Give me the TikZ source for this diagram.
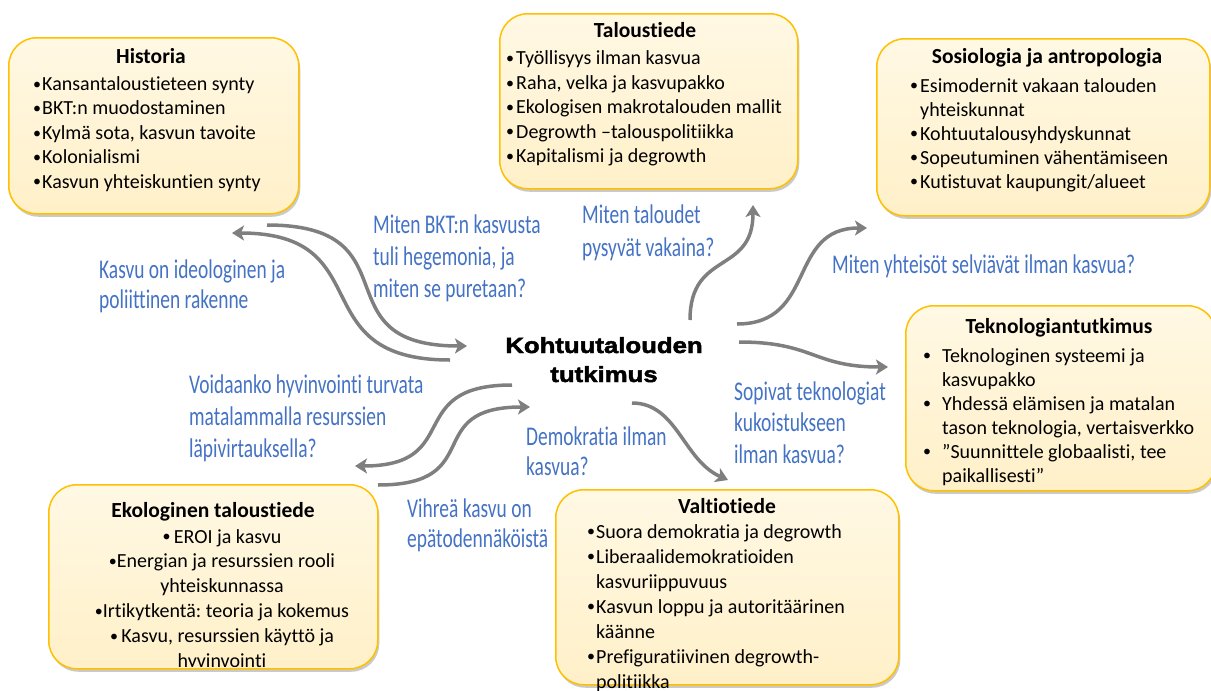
\documentclass[tikz,border=0pt]{standalone}
\usepackage{fontspec}
\setmainfont[Ligatures=NoCommon]{Carlito}
\newfontfamily\qfont[FakeStretch=0.72,Ligatures=NoCommon]{Carlito}
\newfontfamily\cfont[FakeStretch=1.17,FakeBold=2.2]{Liberation Sans Bold}
\usetikzlibrary{arrows.meta,shadows,calc}
\definecolor{qblue}{HTML}{4472C4}
\definecolor{agray}{HTML}{7F7F7F}
\definecolor{bord}{HTML}{FFC000}
\definecolor{btop}{HTML}{FFF8E4}
\definecolor{bbot}{HTML}{FFF0C8}
\newcommand\mybul{{\fontsize{16}{16}\selectfont\raisebox{1.2pt}{\textbullet}}}
\newcommand\bul[1]{\llap{\makebox[#1][l]{\mybul}}}
\frenchspacing
\tikzset{
  box/.style={draw=bord, line width=1.5pt, rounded corners=28pt, top color=btop, bottom color=bbot,
    drop shadow={shadow xshift=1.5pt, shadow yshift=-3pt, opacity=0.35, fill=black!60},
    anchor=north west, inner sep=0pt},
  ttl/.style={anchor=base, inner sep=0pt, font=\bfseries\fontsize{21.5}{25}\selectfont},
  lst/.style={anchor=base west, inner sep=0pt, align=left, font=\fontsize{20}{24.4}\selectfont},
  q/.style={anchor=base west, inner sep=0pt, align=left, text=qblue, font=\qfont\fontsize{27}{31.5}\selectfont},
  arr/.style={draw=agray, line width=3.5pt, -{Stealth[length=12pt, width=15pt, inset=3pt]}}
}
\begin{document}
\begin{tikzpicture}[x=1pt,y=-1pt]
\useasboundingbox (0,0) rectangle (1211,691);
% boxes
\node[box, minimum width=290pt, minimum height=176pt] (hist) at (8,37) {};
\node[box, minimum width=298pt, minimum height=175pt] (talo) at (499,13) {};
\node[box, minimum width=333pt, minimum height=177pt] (sosi) at (876,38) {};
\node[box, minimum width=310pt, minimum height=185pt] (tekn) at (905,305) {};
\node[box, minimum width=329pt, minimum height=184pt] (ekol) at (48,484) {};
\node[box, minimum width=343pt, minimum height=195pt] (valt) at (555,489) {};
% titles
\node[ttl] (histT) at (151,63) {Historia};
\node[ttl] (taloT) at (645,37) {Taloustiede};
\node[ttl] (sosiT) at (1047,63) {Sosiologia ja antropologia};
\node[ttl] (teknT) at (1059,333) {Teknologiantutkimus};
\node[ttl] (ekolT) at (213,517) {Ekologinen taloustiede};
\node[ttl] (valtT) at (727,513) {Valtiotiede};
% lists (anchor = baseline of the last line)
\node[lst] (histL) at (42,188) {\bul{9pt}Kansantaloustieteen synty\\\bul{9pt}BKT:n muodostaminen\\\bul{9pt}Kylmä sota, kasvun tavoite\\\bul{9pt}Kolonialismi\\\bul{9pt}Kasvun yhteiskuntien synty};
\node[lst] (taloL) at (516,162.5) {\bul{10pt}Työllisyys ilman kasvua\\\bul{10pt}Raha, velka ja kasvupakko\\\bul{10pt}Ekologisen makrotalouden mallit\\\bul{10pt}Degrowth –talouspolitiikka\\\bul{10pt}Kapitalismi ja degrowth};
\node[lst, font=\fontsize{20}{24}\selectfont] (sosiL) at (920,188) {\bul{10pt}Esimodernit vakaan talouden\\yhteiskunnat\\\bul{10pt}Kohtuutalousyhdyskunnat\\\bul{10pt}Sopeutuminen vähentämiseen\\\bul{10pt}Kutistuvat kaupungit/alueet};
\node[lst, font=\fontsize{20}{24}\selectfont] (teknL) at (942,482) {\bul{19pt}Teknologinen systeemi ja\\kasvupakko\\\bul{19pt}Yhdessä elämisen ja matalan\\tason teknologia, vertaisverkko\\\bul{19pt}”Suunnittele globaalisti, tee\\paikallisesti”};
\begin{scope}
\clip[rounded corners=28pt] (48,484) rectangle (377,666);
\node[lst, anchor=base, align=center, font=\fontsize{20}{24.8}\selectfont] (ekolL) at (222,667) {\mybul\,EROI ja kasvu\\\mybul Energian ja resurssien rooli\\yhteiskunnassa\\\mybul Irtikytkentä: teoria ja kokemus\\\mybul\,Kasvu, resurssien käyttö ja\\hyvinvointi};
\end{scope}
\node[lst, font=\fontsize{20}{25}\selectfont] (valtL) at (596,688) {\bul{9pt}Suora demokratia ja degrowth\\\bul{9pt}Liberaalidemokratioiden\\kasvuriippuvuus\\\bul{9pt}Kasvun loppu ja autoritäärinen\\käänne\\\bul{9pt}Prefiguratiivinen degrowth-\\politiikka};
% centre
\node[anchor=base, inner sep=0pt, align=center, font=\cfont\fontsize{22}{29}\selectfont] (core) at (604,382) {Kohtuutalouden\\tutkimus};
% questions
\node[q, font=\qfont\fontsize{27}{30.5}\selectfont] (qKasvu) at (99,308.5) {Kasvu on ideologinen ja\\poliittinen rakenne};
\node[q, font=\qfont\fontsize{27}{32}\selectfont] (qBkt) at (373,297) {Miten BKT:n kasvusta\\tuli hegemonia, ja\\miten se puretaan?};
\node[q, font=\qfont\fontsize{27}{33}\selectfont] (qTal) at (582,256) {Miten taloudet\\pysyvät vakaina?};
\node[q] (qYht) at (832,273) {Miten yhteisöt selviävät ilman kasvua?};
\node[q, font=\qfont\fontsize{27}{32}\selectfont] (qVoi) at (189,457) {Voidaanko hyvinvointi turvata\\matalammalla resurssien\\läpivirtauksella?};
\node[q, font=\qfont\fontsize{27}{30}\selectfont] (qDem) at (526,475) {Demokratia ilman\\kasvua?};
\node[q, font=\qfont\fontsize{27}{31.5}\selectfont] (qSop) at (734,463) {Sopivat teknologiat\\kukoistukseen\\ilman kasvua?};
\node[q, font=\qfont\fontsize{27}{30}\selectfont] (qVih) at (407,547) {Vihreä kasvu on\\epätodennäköistä};
% arrow end points
\coordinate (a1) at (267,225); \coordinate (a2) at (467,346);
\coordinate (b1) at (450,360); \coordinate (b2) at (232,233);
\coordinate (c1) at (512,385); \coordinate (c2) at (355,466);
\coordinate (d1) at (378,485); \coordinate (d2) at (530,407);
\coordinate (e1) at (690,320); \coordinate (e2) at (753,205);
\coordinate (f1) at (737,324); \coordinate (f2) at (867,228);
\coordinate (g1) at (739,342); \coordinate (g2) at (888,367);
\coordinate (h1) at (632,403); \coordinate (h2) at (728,480);
\draw[arr] (a1) .. controls ($(a1)+(150,0)$) and ($(a2)+(-150,0)$) .. (a2);
\draw[arr] (b1) .. controls ($(b1)+(-150,0)$) and ($(b2)+(150,0)$) .. (b2);
\draw[arr] (c1) .. controls ($(c1)+(-110,0)$) and ($(c2)+(110,0)$) .. (c2);
\draw[arr] (d1) .. controls ($(d1)+(110,0)$) and ($(d2)+(-110,0)$) .. (d2);
\draw[arr] (e1) .. controls ($(e1)+(0,-70)$) and ($(e2)+(0,70)$) .. (e2);
\draw[arr] (f1) .. controls ($(f1)+(80,0)$) and ($(f2)+(-80,0)$) .. (f2);
\draw[arr] (g1) .. controls ($(g1)+(75,0)$) and ($(g2)+(-75,0)$) .. (g2);
\draw[arr] (h1) .. controls ($(h1)+(45,0)$) and ($(h2)+(-45,-20)$) .. (h2);
\end{tikzpicture}
\end{document}
